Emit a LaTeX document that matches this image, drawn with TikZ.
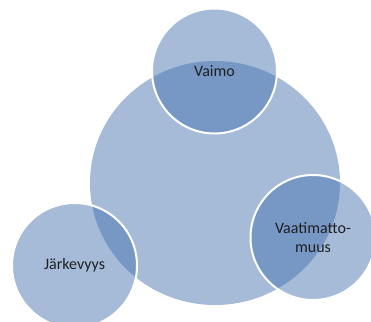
\documentclass[tikz,border=0pt]{standalone}
\usepackage{fontspec}
\setmainfont{Carlito}
\usetikzlibrary{shapes.geometric}
\definecolor{hubfill}{HTML}{A5BBD8}
\definecolor{satfill}{HTML}{4B77B1}
\definecolor{labelgray}{HTML}{1F1F1F}
\begin{document}
\begin{tikzpicture}[x=1pt,y=-1pt,
  hub/.style={ellipse, minimum width=250pt, minimum height=244pt,
    inner sep=0pt, fill=hubfill, draw=none},
  satellite/.style={circle, minimum size=125pt, inner sep=0pt,
    fill=satfill, fill opacity=0.5, draw=white, draw opacity=1,
    line width=2pt, text opacity=1, text=labelgray, align=center,
    font=\fontsize{16}{19}\selectfont}]
  \useasboundingbox (0,0) rectangle (371,321);
  \clip (0,0) rectangle (371,321);
  % central circle
  \node[hub] (hub) at (215,183) {};
  % three overlapping satellites
  \node[satellite] (vaimo) at (214.5,71) {Vaimo};
  \node[satellite] (vaat) at (313,237.5) {Vaatimatto-\\muus};
  \node[satellite] (jarke) at (74.5,265.5) {Järkevyys};
\end{tikzpicture}
\end{document}
